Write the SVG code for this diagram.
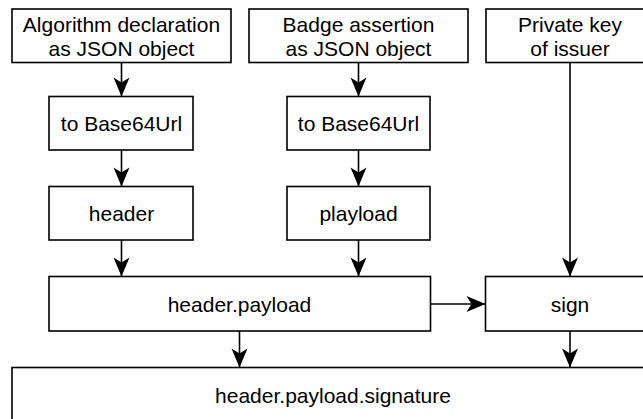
<svg xmlns="http://www.w3.org/2000/svg" width="643" height="419" viewBox="0 0 643 419">
  <style>
    .box { fill: #ffffff; stroke: #000000; stroke-width: 1.6; }
    .lbl { font-family: "Liberation Sans", Arial, sans-serif; font-size: 21px; fill: #000000; text-anchor: middle; }
    .edge { fill: none; stroke: #000000; stroke-width: 1.6; }
  </style>
  <defs>
    <marker id="arrow" markerUnits="userSpaceOnUse" markerWidth="22" markerHeight="20" viewBox="-21 -10 22 20" refX="0" refY="0" orient="auto">
      <path d="M0,0 L-19,-8 L-14,0 L-19,8 Z" fill="#000000"/>
    </marker>
  </defs>

  <g id="connectors">
    <line class="edge" x1="121.5" y1="62.5" x2="121.5" y2="96.5" marker-end="url(#arrow)"/>
    <line class="edge" x1="358.5" y1="62.5" x2="358.5" y2="96.5" marker-end="url(#arrow)"/>
    <line class="edge" x1="121.5" y1="150" x2="121.5" y2="186.5" marker-end="url(#arrow)"/>
    <line class="edge" x1="358.5" y1="150" x2="358.5" y2="186.5" marker-end="url(#arrow)"/>
    <line class="edge" x1="121.5" y1="240" x2="121.5" y2="276.5" marker-end="url(#arrow)"/>
    <line class="edge" x1="358.5" y1="240" x2="358.5" y2="276.5" marker-end="url(#arrow)"/>
    <line class="edge" x1="570" y1="62.5" x2="570" y2="276.5" marker-end="url(#arrow)"/>
    <line class="edge" x1="430.5" y1="304" x2="485.5" y2="304" marker-end="url(#arrow)"/>
    <line class="edge" x1="239.5" y1="331" x2="239.5" y2="367.5" marker-end="url(#arrow)"/>
    <line class="edge" x1="570" y1="331" x2="570" y2="367.5" marker-end="url(#arrow)"/>
  </g>

  <g id="algorithm-json">
    <rect class="box" x="12" y="9" width="219" height="53.5"/>
    <text class="lbl" x="121.5" y="31.5">Algorithm declaration</text>
    <text class="lbl" x="121.5" y="55.5">as JSON object</text>
  </g>
  <g id="badge-json">
    <rect class="box" x="249" y="9" width="219" height="53.5"/>
    <text class="lbl" x="358.5" y="31.5">Badge assertion</text>
    <text class="lbl" x="358.5" y="55.5">as JSON object</text>
  </g>
  <g id="private-key">
    <rect class="box" x="486" y="9" width="168" height="53.5"/>
    <text class="lbl" x="570" y="31.5">Private key</text>
    <text class="lbl" x="570" y="55.5">of issuer</text>
  </g>

  <g id="encode-header">
    <rect class="box" x="49" y="96.5" width="144" height="53.5"/>
    <text class="lbl" x="121.5" y="131">to Base64Url</text>
  </g>
  <g id="encode-payload">
    <rect class="box" x="287" y="96.5" width="143" height="53.5"/>
    <text class="lbl" x="358.5" y="131">to Base64Url</text>
  </g>

  <g id="header">
    <rect class="box" x="49" y="186.5" width="144" height="53.5"/>
    <text class="lbl" x="121.5" y="221">header</text>
  </g>
  <g id="payload">
    <rect class="box" x="287" y="186.5" width="143" height="53.5"/>
    <text class="lbl" x="358.5" y="221">playload</text>
  </g>

  <g id="header-payload">
    <rect class="box" x="49" y="276.5" width="381.5" height="54.5"/>
    <text class="lbl" x="239.5" y="311.5">header.payload</text>
  </g>
  <g id="sign">
    <rect class="box" x="485.5" y="276.5" width="168.5" height="54.5"/>
    <text class="lbl" x="570" y="311.5">sign</text>
  </g>

  <g id="jwt">
    <rect class="box" x="12" y="367.5" width="642" height="54"/>
    <text class="lbl" x="333" y="402.5">header.payload.signature</text>
  </g>
</svg>
